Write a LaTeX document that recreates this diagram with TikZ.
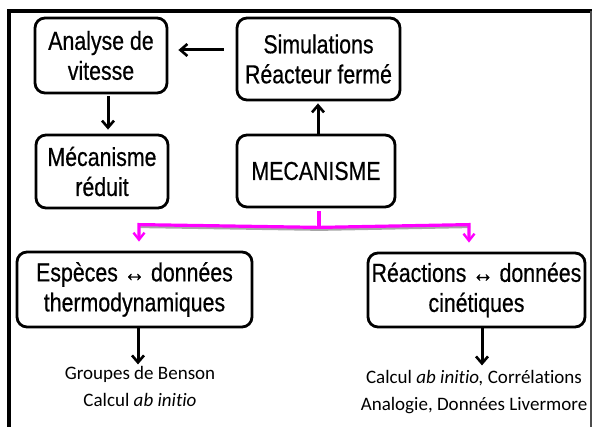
\documentclass[tikz,border=0pt]{standalone}
\usepackage{fontspec}
\setmainfont[Ligatures={NoCommon}]{Carlito}
\newfontfamily\boxfont[FakeStretch=0.82,FakeBold=0.5]{Liberation Sans}
\usetikzlibrary{arrows.meta,calc}
\definecolor{mag}{RGB}{255,0,255}
\tikzset{
  box/.style={draw=black,line width=2.8pt,rounded corners=10pt,inner sep=0pt,align=center,
    font=\boxfont\fontsize{26}{30}\selectfont},
  arr/.style={draw=black,line width=3pt,-{Straight Barb[length=7pt,width=12pt,line width=2.6pt]}},
  magline/.style={draw=mag,line width=3.2pt},
  magarr/.style={draw=mag,line width=3.2pt,-{Straight Barb[length=7pt,width=11pt,line width=2.4pt]}},
  shad/.style={draw=black!35,line width=3pt},
  note/.style={align=center,inner sep=0pt,font=\fontsize{19}{27}\selectfont},
}
\begin{document}
\begin{tikzpicture}[x=1pt,y=-1pt]
\useasboundingbox (0,0) rectangle (593,427);
% frame
\draw[line width=4pt] (9,427) -- (9,11) -- (592,11);
\draw[line width=1.5pt,black!70] (591,11) -- (591,427);
% boxes
\node[box,minimum width=132,minimum height=75] (ana) at (101,55.5) {Analyse de\\vitesse};
\node[box,minimum width=163,minimum height=82] (sim) at (318.5,59) {Simulations\\R\'eacteur ferm\'e};
\node[box,minimum width=132,minimum height=73] (red) at (102,171.5) {M\'ecanisme\\r\'eduit};
\node[box,minimum width=158,minimum height=72] (mec) at (316,171) {MECANISME};
\node[box,minimum width=235,minimum height=75] (esp) at (134.5,289.5) {Esp\`eces ↔ donn\'ees\\thermodynamiques};
\node[box,minimum width=217,minimum height=74] (rea) at (476.5,290) {R\'eactions ↔ donn\'ees\\cin\'etiques};
% notes
\node[note,anchor=north] (ben) at (140,366) {Groupes de Benson\\Calcul \textit{ab initio}};
\node[note,anchor=north] (liv) at (474,370) {Calcul \textit{ab initio,} Corr\'elations\\Analogie, Donn\'ees Livermore};
% black arrows
\draw[arr] ($(sim.west)+(-12,-9)$) -- ($(ana.east)+(10,-5.5)$);
\draw[arr] ($(ana.south)+(7,2)$) -- ($(red.north)+(6,-4)$);
\draw[arr] ($(mec.north)+(2,0)$) -- ($(sim.south)+(-0.5,2)$);
\draw[arr] ($(esp.south)+(3.5,0)$) -- ($(esp.south)+(3.5,36)$);
\draw[arr] ($(rea.south)+(5.5,0)$) -- ($(rea.south)+(5.5,37)$);
% magenta connectors
\coordinate (j) at ($(mec.south)+(3,19)$);
\coordinate (jl) at ($(esp.north)+(4.5,-26)$);
\coordinate (jr) at ($(rea.north)+(-7.5,-27)$);
\draw[shad] ($(j)+(1,2)$) -- ($(jl)+(1,2)$);
\draw[shad] ($(j)+(1,2)$) -- ($(jr)+(1,2)$);
\draw[magline] ($(mec.south)+(3,3)$) -- (j);
\draw[magarr] (j) -- (jl) -- ($(esp.north)+(4.5,-9)$);
\draw[magarr] (j) -- (jr) -- ($(rea.north)+(-7.5,-9)$);
\end{tikzpicture}
\end{document}
